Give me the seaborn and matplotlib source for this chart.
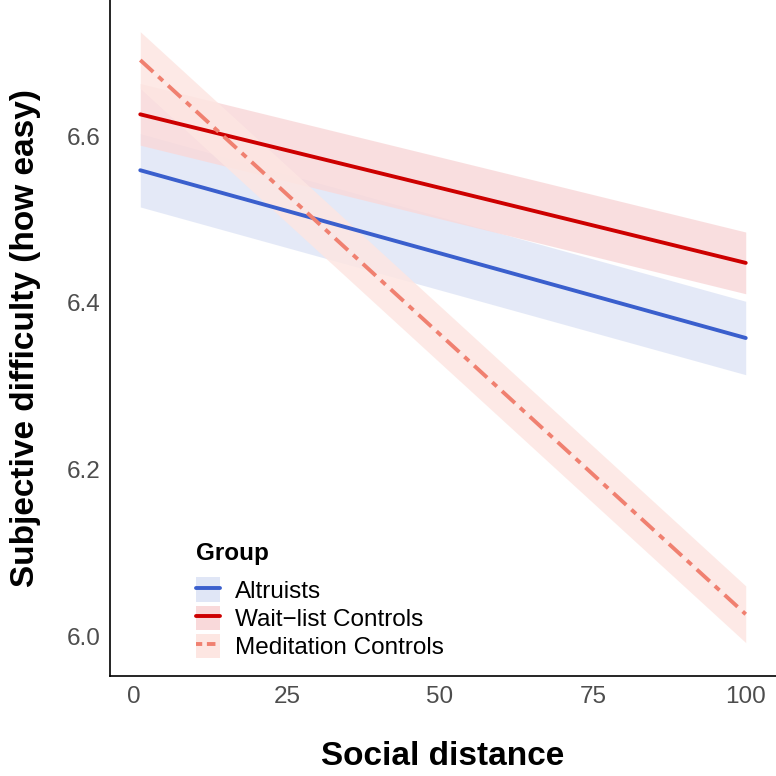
import numpy as np
import pandas as pd
import matplotlib
matplotlib.use('Agg')
import matplotlib.pyplot as plt
import seaborn as sns
from matplotlib.patches import Patch
from matplotlib.lines import Line2D
from matplotlib.legend_handler import HandlerTuple

# Values (fitted lines at social distance 1 and 100)
groups = ['Altruists', 'Wait\u2212list Controls', 'Meditation Controls']
x_ends = [1, 100]
fit_start = [6.559, 6.626, 6.691]
fit_end = [6.358, 6.448, 6.027]
ci_half = [0.044, 0.037, 0.034]

line_colors = ['#3A5FCD', '#CD0000', '#F08070']
band_colors = ['#E0E6F6', '#F9D9DA', '#FDE6E2']

rows = []
for g, s, e, h in zip(groups, fit_start, fit_end, ci_half):
    for x, v in zip(x_ends, [s, e]):
        rows.append({'Social distance': x, 'fit': v, 'lower': v - h, 'upper': v + h, 'Group': g})
df = pd.DataFrame(rows)

sns.set_style('white')
plt.rcParams['font.family'] = ['Liberation Sans', 'DejaVu Sans']

fig = plt.figure(figsize=(7.76, 7.76), dpi=100)
ax = fig.add_axes([110/776, 1 - 676/776, 1 - 110/776, 676/776])

# ribbons first, then the lines on top
for g, bc in zip(groups, band_colors):
    d = df[df['Group'] == g]
    ax.fill_between(d['Social distance'], d['lower'], d['upper'], color=bc, lw=0, alpha=0.85)

pal = dict(zip(groups, line_colors))
sns.lineplot(data=df, x='Social distance', y='fit', hue='Group', palette=pal,
             lw=2.8, legend=False, ax=ax, hue_order=groups)
ax.lines[2].set_dashes([4.5, 1.8, 1.6, 1.8])

ax.set_xlim(-3.95, 104.95)
ax.set_ylim(5.953, 6.763)
ax.set_xticks([0, 25, 50, 75, 100])
ax.set_yticks([6.0, 6.2, 6.4, 6.6])
ax.set_yticklabels(['6.0', '6.2', '6.4', '6.6'])
ax.tick_params(length=0, labelsize=17.5, labelcolor='#4D4D4D', pad=7)
for sp in ['top', 'right']:
    ax.spines[sp].set_visible(False)
for sp in ['left', 'bottom']:
    ax.spines[sp].set_linewidth(1.2)
    ax.spines[sp].set_color('black')

ax.set_xlabel('Social distance', fontsize=24, fontweight='bold', labelpad=24, color='black')
ax.set_ylabel('Subjective difficulty (how easy)', fontsize=24, fontweight='bold', labelpad=18, color='black')

handles = []
for i in range(3):
    p = Patch(facecolor=band_colors[i], edgecolor='none')
    if i == 2:
        ln = Line2D([], [], color=line_colors[i], lw=2.8, dashes=[1.6, 1.2, 2.2, 1.2])
    else:
        ln = Line2D([], [], color=line_colors[i], lw=2.8)
    handles.append((p, ln))

leg = ax.legend(handles, groups, title='Group', loc='lower left',
                bbox_to_anchor=(0.097, -0.0075), frameon=False, fontsize=17.5,
                title_fontproperties={'weight': 'bold', 'size': 17.5},
                handler_map={tuple: HandlerTuple(ndivide=1, pad=0)},
                handlelength=0.95, handleheight=1.15, handletextpad=0.65,
                labelspacing=0.12, alignment='left')
leg._legend_box.sep = 9
for t in leg.get_texts():
    t.set_color('black')
leg.get_title().set_color('black')

fig.savefig('out.png', dpi=100)
